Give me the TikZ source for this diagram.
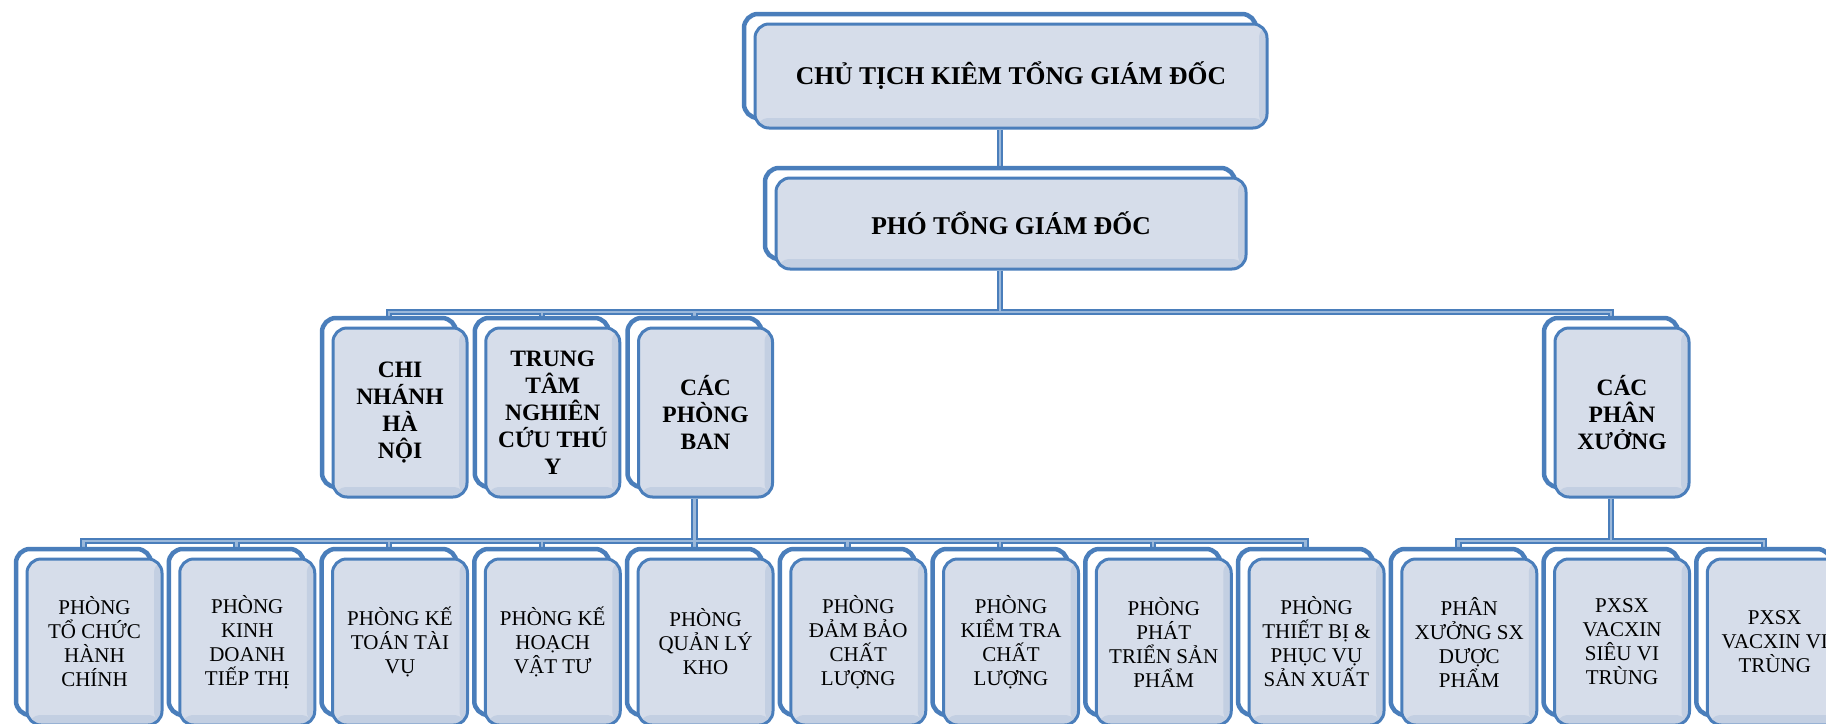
\documentclass[tikz,border=0pt]{standalone}
\usepackage{fontspec}
\setmainfont{Liberation Serif}
\usetikzlibrary{backgrounds}
\definecolor{boxline}{HTML}{4A7EBB}
\definecolor{boxfill}{HTML}{D6DDEA}
\definecolor{boxedge}{HTML}{C3CFE2}
\tikzset{
  card/.style={draw=boxline, line width=1.5pt, fill=boxfill, rounded corners=7pt,
    align=center, inner sep=2pt,
    preaction={draw=boxline, fill=white, line width=2.25pt,
      transform canvas={shift={(-5.5pt,5pt)}}},
    path picture={
      \fill[boxedge] ([xshift=-4pt]path picture bounding box.north east) rectangle (path picture bounding box.south east);
      \fill[boxedge] ([yshift=5pt]path picture bounding box.south west) rectangle (path picture bounding box.south east);
    }},
  boss/.style={card, font=\bfseries\fontsize{12.8}{15}\selectfont},
  dept/.style={card, minimum width=67pt, minimum height=84.5pt,
    font=\bfseries\fontsize{11.75}{13.5}\selectfont},
  unit/.style={card, minimum width=67.5pt, minimum height=83pt,
    font=\fontsize{10.5}{12}\selectfont},
  conn/.style={draw=boxline, line width=1pt, double=boxline!55, double distance=1.25pt}
}

\begin{document}
\begin{tikzpicture}[x=0.5pt, y=-0.5pt]
  \useasboundingbox (0,0) rectangle (1826,723);

  % ban lanh dao
  \node[boss, minimum width=256pt, minimum height=52pt] (ct) at (1011,76) {CHỦ TỊCH KIÊM TỔNG GIÁM ĐỐC};
  \node[boss, minimum width=235pt, minimum height=45.5pt] (pho) at (1011,223.5) {PHÓ TỔNG GIÁM ĐỐC};

  % cap 3
  \node[dept] (cn) at (400,412.5) {CHI\\NHÁNH\\HÀ\\NỘI};
  \node[dept] (tt) at (552.75,412.5) {TRUNG\\TÂM\\NGHIÊN\\CỨU THÚ\\Y};
  \node[dept] (cpb) at (705.5,412.5) {CÁC\\PHÒNG\\BAN};
  \node[dept] (cpx) at (1622,412.5) {CÁC\\PHÂN\\XƯỞNG};

  % cac phong ban
  \node[unit] (tchc) at (94.5,642) {PHÒNG\\TỔ CHỨC\\HÀNH\\CHÍNH};
  \node[unit] (kdtt) at (247.25,642) {PHÒNG\\KINH\\DOANH\\TIẾP THỊ};
  \node[unit] (ktv) at (400,642) {PHÒNG KẾ\\TOÁN TÀI\\VỤ};
  \node[unit] (khvt) at (552.75,642) {PHÒNG KẾ\\HOẠCH\\VẬT TƯ};
  \node[unit] (qlk) at (705.5,642) {PHÒNG\\QUẢN LÝ\\KHO};
  \node[unit] (dbcl) at (858.25,642) {PHÒNG\\ĐẢM BẢO\\CHẤT\\LƯỢNG};
  \node[unit] (ktcl) at (1011,642) {PHÒNG\\KIỂM TRA\\CHẤT\\LƯỢNG};
  \node[unit] (ptsp) at (1163.75,642) {PHÒNG\\PHÁT\\TRIỂN SẢN\\PHẨM};
  \node[unit] (tbsx) at (1316.5,642) {PHÒNG\\THIẾT BỊ \&\\PHỤC VỤ\\SẢN XUẤT};

  % cac phan xuong
  \node[unit] (pxdp) at (1469.25,642) {PHÂN\\XƯỞNG SX\\DƯỢC\\PHẨM};
  \node[unit] (pxsv) at (1622,642) {PXSX\\VACXIN\\SIÊU VI\\TRÙNG};
  \node[unit] (pxvt) at (1774.75,642) {PXSX\\VACXIN VI\\TRÙNG};

  % connectors
  \begin{scope}[on background layer]
    \coordinate (bar3) at (0,312);
    \coordinate (bar4) at (0,541);
    \draw[conn]
      ([xshift=-5.5pt]ct.south) -- ([xshift=-5.5pt]pho.north)
      ([xshift=-5.5pt]pho.south) -- ([xshift=-5.5pt]pho.south |- bar3)
      ([xshift=-5.5pt]cn.north) -- ([xshift=-5.5pt]cn.north |- bar3)
        -- ([xshift=-5.5pt]cpx.north |- bar3) -- ([xshift=-5.5pt]cpx.north)
      foreach \n in {tt,cpb} {([xshift=-5.5pt]\n.north) -- ([xshift=-5.5pt]\n.north |- bar3)};
    \draw[conn]
      ([xshift=-5.5pt]cpb.south) -- ([xshift=-5.5pt]cpb.south |- bar4)
      ([xshift=-5.5pt]tchc.north) -- ([xshift=-5.5pt]tchc.north |- bar4)
        -- ([xshift=-5.5pt]tbsx.north |- bar4) -- ([xshift=-5.5pt]tbsx.north)
      foreach \n in {kdtt,ktv,khvt,qlk,dbcl,ktcl,ptsp} {([xshift=-5.5pt]\n.north) -- ([xshift=-5.5pt]\n.north |- bar4)};
    \draw[conn]
      ([xshift=-5.5pt]cpx.south) -- ([xshift=-5.5pt]cpx.south |- bar4)
      ([xshift=-5.5pt]pxdp.north) -- ([xshift=-5.5pt]pxdp.north |- bar4)
        -- ([xshift=-5.5pt]pxvt.north |- bar4) -- ([xshift=-5.5pt]pxvt.north);
  \end{scope}
\end{tikzpicture}
\end{document}
